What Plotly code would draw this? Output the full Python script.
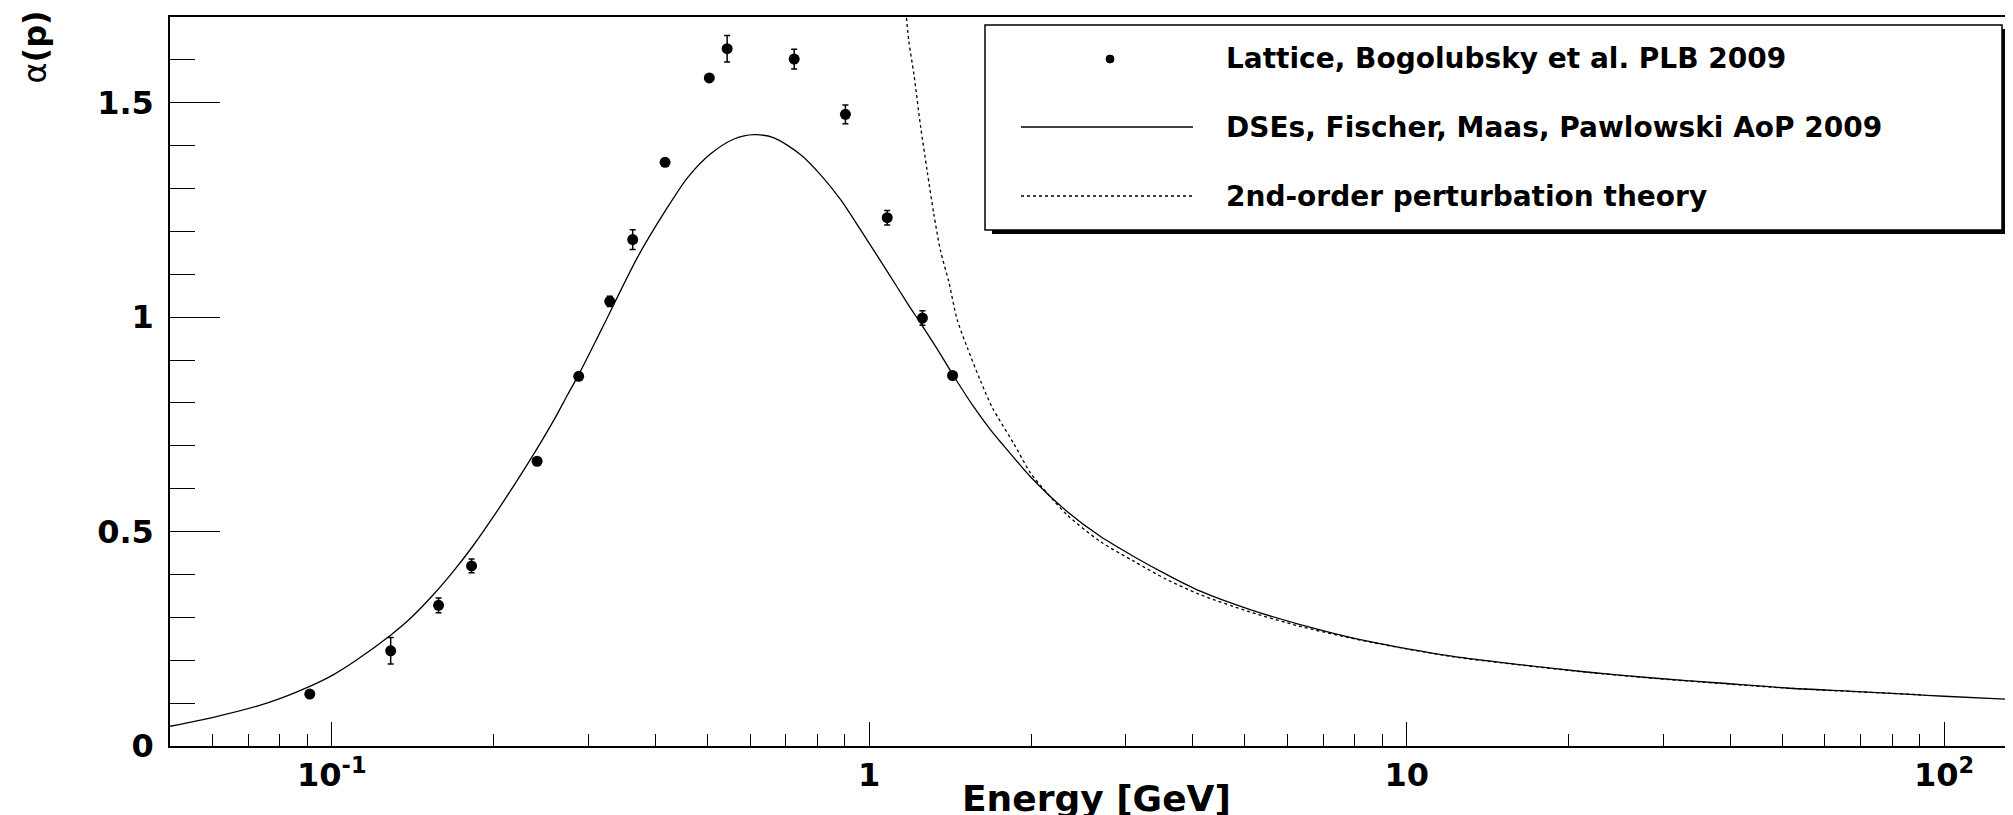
import numpy as np
import plotly.graph_objects as go

# Lattice data, Bogolubsky et al. PLB 2009
lattice_energy = [0.091, 0.1287, 0.158, 0.182, 0.241, 0.288, 0.329, 0.363,
                  0.417, 0.504, 0.544, 0.725, 0.903, 1.080, 1.256, 1.429]
lattice_alpha = [0.121, 0.222, 0.328, 0.420, 0.664, 0.862, 1.037, 1.181,
                 1.361, 1.558, 1.626, 1.602, 1.473, 1.232, 0.998, 0.864]
lattice_err = [0.004, 0.031, 0.017, 0.016, 0.008, 0.008, 0.012, 0.023,
               0.004, 0.006, 0.031, 0.023, 0.022, 0.017, 0.017, 0.005]

# DSE curve, Fischer, Maas, Pawlowski AoP 2009
dse_energy = [0.050, 0.0602, 0.0724, 0.0812, 0.091, 0.1006, 0.111, 0.129,
              0.1396, 0.1543, 0.168, 0.1832, 0.1994, 0.2204, 0.240, 0.2616,
              0.2746, 0.288, 0.3166, 0.3707, 0.415, 0.4589, 0.507, 0.5603,
              0.6105, 0.665, 0.7455, 0.812, 0.8846, 0.963, 1.080, 1.177,
              1.258, 1.35, 1.434, 1.566, 1.68, 1.78, 1.995, 2.334, 2.69, 3.105,
              3.58, 4.13, 5.113, 6.335, 7.847, 9.18, 12.21, 16.24, 21.6,
              28.74, 38.23, 50.85, 67.6, 84.9, 100.0, 138.0]
dse_alpha = [0.046, 0.067, 0.0925, 0.1135, 0.139, 0.166, 0.200, 0.2596,
             0.296, 0.352, 0.406, 0.467, 0.533, 0.616, 0.690, 0.770,
             0.819, 0.866, 0.968, 1.140, 1.243, 1.325, 1.381, 1.4155,
             1.4257, 1.418, 1.379, 1.332, 1.274, 1.204, 1.107, 1.033,
             0.978, 0.918, 0.864, 0.790, 0.738, 0.700, 0.628, 0.547, 0.489, 0.442,
             0.3995, 0.361, 0.318, 0.283, 0.2535, 0.236, 0.209, 0.1897, 0.1726,
             0.1586, 0.1469, 0.1353, 0.1275, 0.121, 0.116, 0.108]

# 2nd-order perturbation theory
pt_energy = [1.173, 1.185, 1.211, 1.246, 1.282, 1.319, 1.357, 1.406, 1.457,
             1.521, 1.61, 1.693, 1.858, 1.995, 2.142, 2.334, 2.69, 3.105,
             3.58, 4.13, 5.113, 6.335, 7.847, 9.18, 12.21, 16.24, 21.6,
             28.74, 38.23, 50.85, 67.6, 92.0]
pt_alpha = [1.698, 1.643, 1.566, 1.445, 1.340, 1.240, 1.155, 1.083, 0.995,
            0.930, 0.852, 0.790, 0.705, 0.637, 0.590, 0.539, 0.477, 0.431,
            0.388, 0.353, 0.3125, 0.279, 0.252, 0.235, 0.208, 0.189, 0.172,
            0.158, 0.146, 0.135, 0.127, 0.119]

x_tickvals = [0.1, 1, 10, 100]
x_ticktext = ["10<sup>-1</sup>", "1", "10", "10<sup>2</sup>"]
legend_labels = ["Lattice, Bogolubsky et al. PLB 2009",
                 "DSEs, Fischer, Maas, Pawlowski AoP 2009",
                 "2nd-order perturbation theory"]

W, H = 2013, 815
L, R, T, B = 162, 0, 9, 77
FONT = "DejaVu Sans"


def px(x):
    # pixel column -> paper x
    return (x - L) / (W - L - R)


def py(y):
    # pixel row -> paper y
    return (H - B - y) / (H - T - B)


fig = go.Figure()

fig.add_trace(go.Scatter(
    x=dse_energy, y=dse_alpha, mode="lines",
    line=dict(color="black", width=1.3, shape="spline", smoothing=0.8),
    name=legend_labels[1]))

fig.add_trace(go.Scatter(
    x=pt_energy, y=pt_alpha, mode="lines",
    line=dict(color="black", width=1.3, dash="3px,3px", shape="spline", smoothing=0.8),
    name=legend_labels[2]))

fig.add_trace(go.Scatter(
    x=lattice_energy, y=lattice_alpha, mode="markers",
    marker=dict(color="black", size=11, symbol="circle"),
    error_y=dict(type="data", array=lattice_err, color="black", thickness=1.5, width=3),
    name=legend_labels[0]))

# hand-made ROOT style legend box with shadow
shapes = [
    dict(type="rect", xref="paper", yref="paper", x0=px(984), x1=px(1999), y0=py(226), y1=py(21),
         fillcolor="black", line=dict(width=0), layer="above"),
    dict(type="rect", xref="paper", yref="paper", x0=px(977), x1=px(1994), y0=py(222), y1=py(17),
         fillcolor="white", line=dict(color="black", width=1.5), layer="above"),
    dict(type="circle", xref="paper", yref="paper", x0=px(1098), x1=px(1106), y0=py(55), y1=py(47),
         fillcolor="black", line=dict(color="black", width=1), layer="above"),
    dict(type="line", xref="paper", yref="paper", x0=px(1013), x1=px(1185), y0=py(119), y1=py(119),
         line=dict(color="black", width=1.3), layer="above"),
    dict(type="line", xref="paper", yref="paper", x0=px(1013), x1=px(1185), y0=py(188), y1=py(188),
         line=dict(color="black", width=1.3, dash="3px,3px"), layer="above"),
]

annotations = []
for label, row in zip(legend_labels, [51, 119, 188]):
    annotations.append(dict(
        text=label, xref="paper", yref="paper", x=px(1216), y=py(row),
        xanchor="left", yanchor="middle", showarrow=False,
        font=dict(family=FONT, size=28, color="black", weight="bold")))

annotations.append(dict(
    text="Energy [GeV]", xref="paper", yref="paper", x=px(1088), y=py(790),
    xanchor="center", yanchor="middle", showarrow=False,
    font=dict(family=FONT, size=36, color="black", weight="bold")))

annotations.append(dict(
    text="α<b>(p)</b>", xref="paper", yref="paper", x=px(27), y=py(1),
    xanchor="center", yanchor="top", textangle=-90, showarrow=False,
    font=dict(family=FONT, size=32, color="black")))

tick_font = dict(family=FONT, size=32, color="black", weight="bold")

fig.update_layout(
    width=W, height=H,
    margin=dict(l=L, r=R, t=T, b=B),
    paper_bgcolor="white", plot_bgcolor="white",
    showlegend=False,
    shapes=shapes,
    annotations=annotations,
    xaxis=dict(
        type="log", range=[np.log10(0.05), np.log10(139)],
        tickmode="array", tickvals=x_tickvals, ticktext=x_ticktext,
        ticks="inside", ticklen=24, tickwidth=1.2, tickcolor="black",
        minor=dict(ticks="inside", ticklen=12, tickwidth=1.2, tickcolor="black",
                   dtick="D1", showgrid=False),
        showline=True, linecolor="black", linewidth=1.5, mirror=True,
        showgrid=False, zeroline=False, tickfont=tick_font,
    ),
    yaxis=dict(
        range=[0, 1.7], tick0=0, dtick=0.5,
        ticks="inside", ticklen=50, tickwidth=1.2, tickcolor="black",
        minor=dict(ticks="inside", ticklen=25, tickwidth=1.2, tickcolor="black",
                   dtick=0.1, showgrid=False),
        showline=True, linecolor="black", linewidth=1.5,
        showgrid=False, zeroline=False, tickfont=tick_font,
        ticklabelstandoff=8,
    ),
)

fig.write_html("out.html")
